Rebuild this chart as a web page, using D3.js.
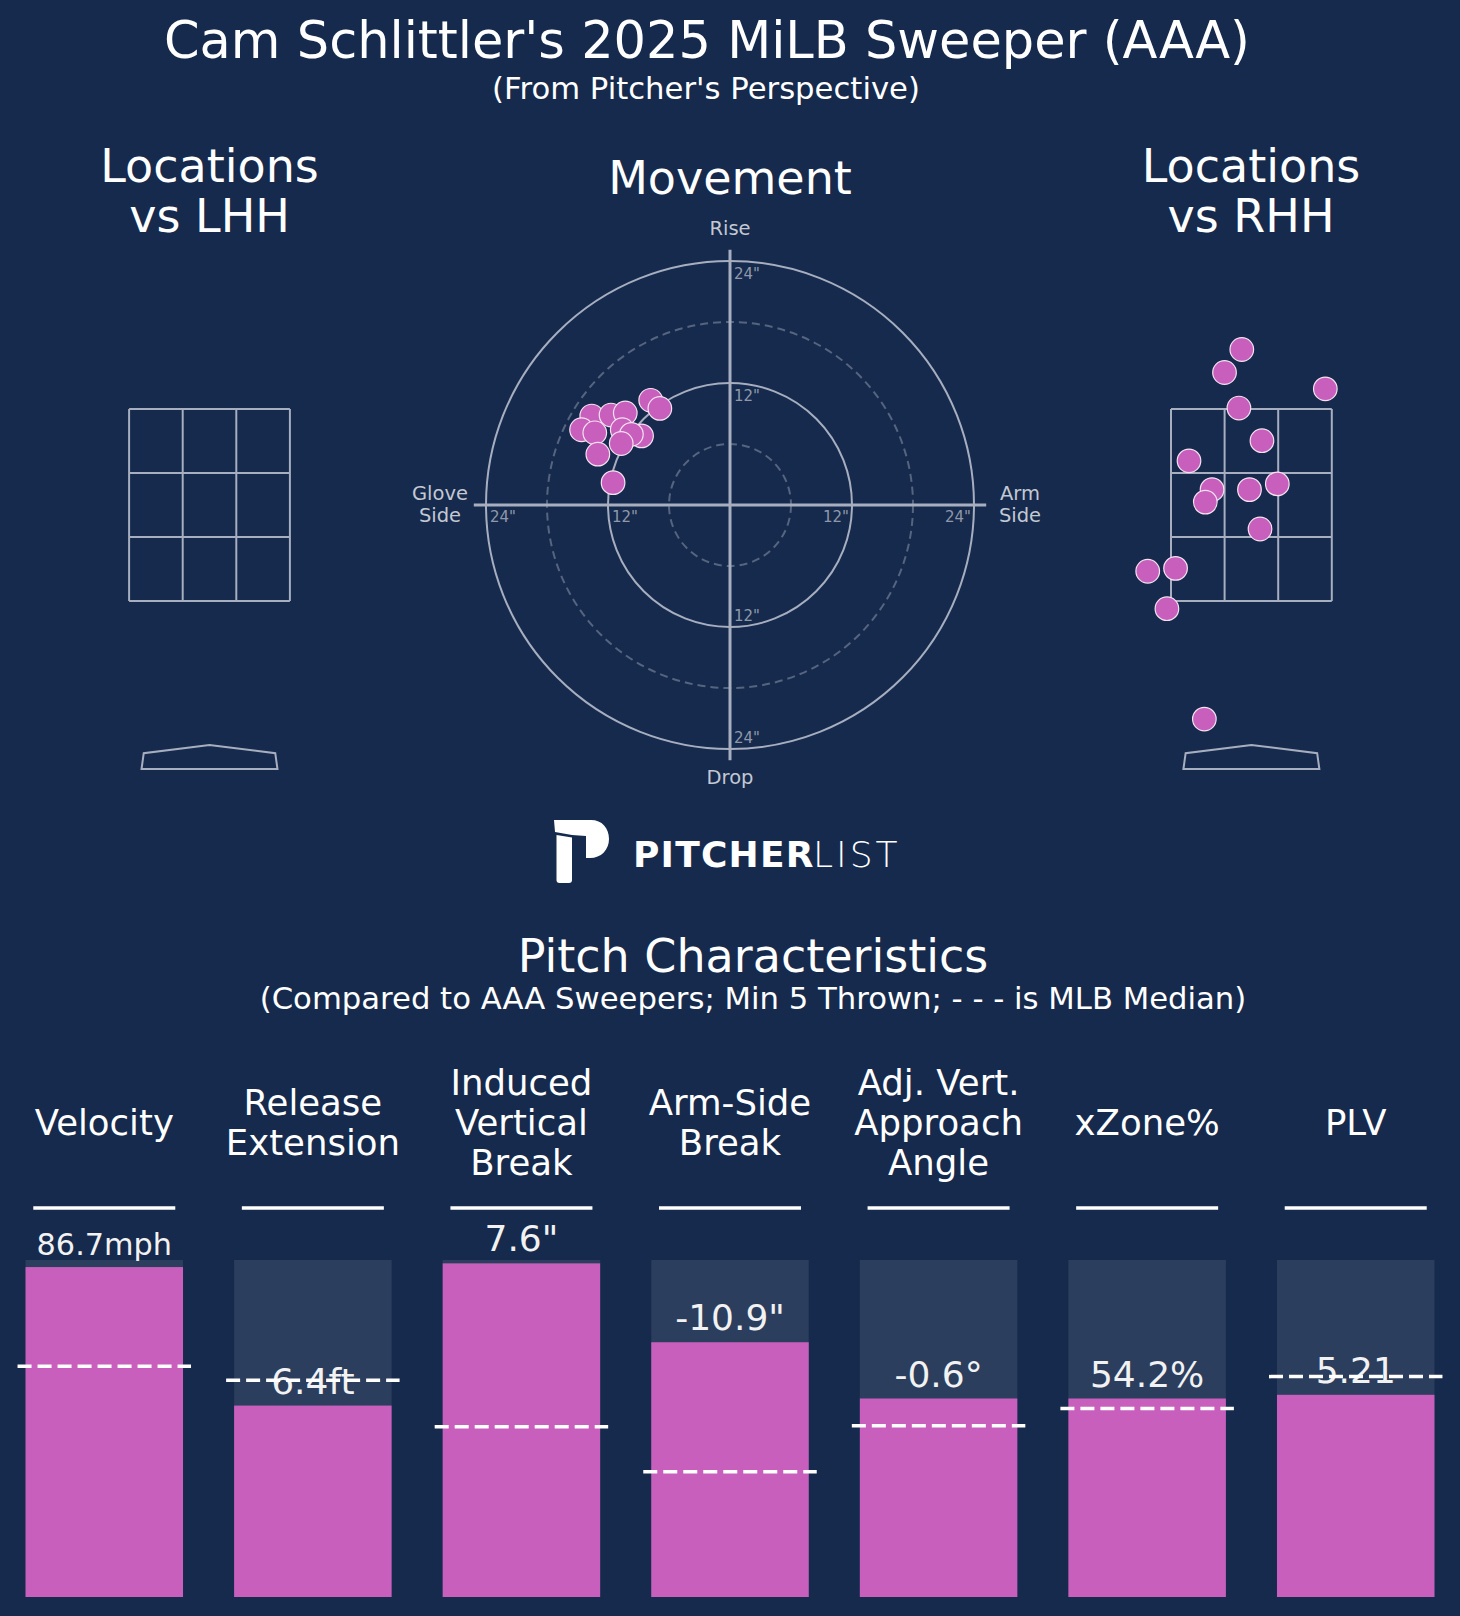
<!DOCTYPE html>
<html>
<head>
<meta charset="utf-8">
<title>Cam Schlittler's 2025 MiLB Sweeper (AAA)</title>
<script src="https://d3js.org/d3.v7.min.js"></script>
<style>
  body { margin: 0; background: #162a4d; }
  svg { display: block; font-family: "DejaVu Sans", sans-serif; }
</style>
</head>
<body>
<script>
// ---- data ----
// movement: horizontal break (in, glove side negative), induced vertical break (in)
const moveHB = [-7.8, -6.9, -13.6, -14.6, -11.7, -10.3, -13.3, -10.6, -8.7, -9.7, -10.7, -13.0, -11.5];
const moveIVB = [10.3, 9.5, 8.75, 7.4, 8.85, 9.05, 7.1, 7.4, 6.8, 6.95, 6.05, 5.0, 2.2];

// locations vs RHH: plate_x (ft), plate_z (ft)
const rhhX = [-0.10, -0.28, 0.77, -0.13, 0.11, -0.65, -0.41, -0.48, -0.02, 0.27, 0.09, -1.08, -0.79, -0.88, -0.49];
const rhhZ = [4.12, 3.88, 3.71, 3.51, 3.17, 2.96, 2.66, 2.53, 2.66, 2.72, 2.25, 1.81, 1.84, 1.42, 0.27];
// locations vs LHH: none thrown
const lhhX = [];
const lhhZ = [];

// pitch characteristics
const metricLabels = [["Velocity"], ["Release", "Extension"], ["Induced", "Vertical", "Break"],
  ["Arm-Side", "Break"], ["Adj. Vert.", "Approach", "Angle"], ["xZone%"], ["PLV"]];
const valueLabels = ["86.7mph", "6.4ft", "7.6\"", "-10.9\"", "-0.6°", "54.2%", "5.21"];
const percentiles = [97.9, 56.8, 99.0, 75.6, 58.9, 58.9, 60.0];
const medianPercentiles = [68.5, 64.3, 50.5, 37.2, 50.8, 55.9, 65.4];

const moveRings = [6, 12, 18, 24];
const moveTicks = [12, 24];

// ---- styles ----
const W = 1460, H = 1616;
const BG = "#162a4d";
const PINK = "#c95fbd";
const TRACK = "#2c3e5e";
const GRID = "#a6aebf";
const GRID_DIM = "#55647f";
const TEXT = "#ffffff";
const SOFT = "#c3c8d3";

const svg = d3.select("body").append("svg")
  .attr("width", W)
  .attr("height", H);

svg.append("rect").attr("width", W).attr("height", H).attr("fill", BG);

function lines(g, arr, x, y, size, lh, color, weight) {
  const t = g.append("text")
    .attr("x", x)
    .attr("y", y)
    .attr("text-anchor", "middle")
    .attr("font-size", size)
    .attr("fill", color)
    .attr("font-weight", weight || "normal");
  arr.forEach((s, i) => t.append("tspan").attr("x", x).attr("dy", i === 0 ? 0 : lh).text(s));
  return t;
}

// ---- titles ----
lines(svg, ["Cam Schlittler's 2025 MiLB Sweeper (AAA)"], 707, 58, 51, 0, TEXT);
lines(svg, ["(From Pitcher's Perspective)"], 706, 99, 30.7, 0, TEXT);

lines(svg, ["Locations", "vs LHH"], 209.5, 182, 46, 50, TEXT);
lines(svg, ["Movement"], 730, 194, 46, 0, TEXT);
lines(svg, ["Locations", "vs RHH"], 1251, 182, 46, 50, TEXT);

// ---- movement plot ----
const mcx = 730, mcy = 505, mr = 244;
const mx = d3.scaleLinear().domain([-24, 24]).range([mcx - mr, mcx + mr]);
const my = d3.scaleLinear().domain([-24, 24]).range([mcy + mr, mcy - mr]);
const pxPerIn = mr / 24;

const mg = svg.append("g");
mg.selectAll("circle.ring")
  .data(moveRings)
  .enter()
  .append("circle")
  .attr("class", "ring")
  .attr("cx", mx(0))
  .attr("cy", my(0))
  .attr("r", d => d * pxPerIn)
  .attr("fill", "none")
  .attr("stroke", d => d % 12 === 0 ? GRID : GRID_DIM)
  .attr("stroke-width", 2)
  .attr("stroke-dasharray", d => d % 12 === 0 ? null : "8,5");

mg.append("line")
  .attr("x1", mx(-25.2)).attr("x2", mx(25.2))
  .attr("y1", my(0)).attr("y2", my(0))
  .attr("stroke", GRID).attr("stroke-width", 3);
mg.append("line")
  .attr("x1", mx(0)).attr("x2", mx(0))
  .attr("y1", my(25.1)).attr("y2", my(-25.1))
  .attr("stroke", GRID).attr("stroke-width", 3);

const tickColor = "#8f98aa";
moveTicks.forEach(t => {
  // vertical axis, top and bottom
  mg.append("text").attr("x", mx(0) + 4).attr("y", my(t) + 18)
    .attr("font-size", 15).attr("fill", tickColor).text(t + "\"");
  mg.append("text").attr("x", mx(0) + 4).attr("y", my(-t) - 6)
    .attr("font-size", 15).attr("fill", tickColor).text(t + "\"");
  // horizontal axis, left and right
  mg.append("text").attr("x", mx(-t) + 4).attr("y", my(0) + 17)
    .attr("font-size", 15).attr("fill", tickColor).text(t + "\"");
  mg.append("text").attr("x", mx(t) - 3).attr("y", my(0) + 17)
    .attr("text-anchor", "end")
    .attr("font-size", 15).attr("fill", tickColor).text(t + "\"");
});

lines(mg, ["Rise"], mx(0), 235, 19.5, 0, SOFT);
lines(mg, ["Drop"], mx(0), 784, 19.5, 0, SOFT);
lines(mg, ["Glove", "Side"], 440, 500, 19.5, 22, SOFT);
lines(mg, ["Arm", "Side"], 1020, 500, 19.5, 22, SOFT);

mg.selectAll("circle.pitch")
  .data(moveHB.map((h, i) => [h, moveIVB[i]]))
  .enter()
  .append("circle")
  .attr("class", "pitch")
  .attr("cx", d => mx(d[0]))
  .attr("cy", d => my(d[1]))
  .attr("r", 11.8)
  .attr("fill", PINK)
  .attr("stroke", "#f3e3f1")
  .attr("stroke-width", 1.2);

// ---- location plots ----
const ftPx = 96;
const zoneTop = 409;
const zoneHalf = 0.8375;
const platePts = [[-0.708, -0.25], [-0.685, -0.085], [0, 0], [0.685, -0.085], [0.708, -0.25]];

function locationPlot(cx, xs, zs) {
  const x = d3.scaleLinear().domain([-1, 1]).range([cx - ftPx, cx + ftPx]);
  const z = d3.scaleLinear().domain([3.5, 1.5]).range([zoneTop, zoneTop + 2 * ftPx]);
  const g = svg.append("g");

  const xs3 = d3.range(4).map(i => -zoneHalf + i * (2 * zoneHalf / 3));
  const zs3 = d3.range(4).map(i => 1.5 + i * (2 / 3));

  g.selectAll("line.v").data(xs3).enter().append("line")
    .attr("x1", d => x(d)).attr("x2", d => x(d))
    .attr("y1", z(1.5)).attr("y2", z(3.5))
    .attr("stroke", GRID).attr("stroke-width", 2);
  g.selectAll("line.h").data(zs3).enter().append("line")
    .attr("x1", x(-zoneHalf)).attr("x2", x(zoneHalf))
    .attr("y1", d => z(d)).attr("y2", d => z(d))
    .attr("stroke", GRID).attr("stroke-width", 2);

  g.append("path")
    .attr("d", d3.line().x(d => x(d[0])).y(d => z(d[1]))(platePts) + "Z")
    .attr("fill", "none")
    .attr("stroke", GRID)
    .attr("stroke-width", 2);

  g.selectAll("circle")
    .data(xs.map((v, i) => [v, zs[i]]))
    .enter()
    .append("circle")
    .attr("cx", d => x(d[0]))
    .attr("cy", d => z(d[1]))
    .attr("r", 11.8)
    .attr("fill", PINK)
    .attr("stroke", "#f3e3f1")
    .attr("stroke-width", 1.2);
}

locationPlot(209.5, lhhX, lhhZ);
locationPlot(1251.4, rhhX, rhhZ);

// ---- logo ----
const logo = svg.append("g").attr("fill", "#ffffff");
logo.append("path")
  .attr("d", "M554,820 L591,820 C602,820 609,828 609,839 C609,850 601,858 590,858 L586,858 L586,836 L572,835 L555,832 Z");
logo.append("path")
  .attr("d", "M556.5,835 L572,837.5 L572,880 Q572,883 569,883 L559.5,883 Q556.5,883 556.5,880 Z");
logo.append("text").attr("x", 633).attr("y", 867)
  .attr("font-size", 36).attr("font-weight", "bold").attr("letter-spacing", 1.2)
  .text("PITCHER");
logo.append("text").attr("x", 813).attr("y", 867)
  .attr("font-size", 36).attr("font-weight", 200).attr("letter-spacing", 3)
  .text("LIST");

// ---- pitch characteristics ----
lines(svg, ["Pitch Characteristics"], 753, 972, 46, 0, TEXT);
lines(svg, ["(Compared to AAA Sweepers; Min 5 Thrown; - - - is MLB Median)"], 753, 1009, 30.7, 0, TEXT);

const bx = d3.scaleBand()
  .domain(d3.range(metricLabels.length))
  .range([0, W])
  .paddingInner(0.245)
  .paddingOuter(0.1225);
const by = d3.scaleLinear().domain([0, 100]).range([1597, 1260]);

const bars = svg.append("g");
const cols = bars.selectAll("g.col")
  .data(d3.range(metricLabels.length))
  .enter()
  .append("g")
  .attr("class", "col");

cols.each(function (i) {
  const g = d3.select(this);
  const x0 = bx(i), bw = bx.bandwidth(), xc = x0 + bw / 2;
  const lab = metricLabels[i];
  lines(g, lab, xc, 1135 - (lab.length - 1) * 20, 35.5, 40, TEXT);

  g.append("line")
    .attr("x1", xc - 71).attr("x2", xc + 71)
    .attr("y1", 1208).attr("y2", 1208)
    .attr("stroke", "#ffffff").attr("stroke-width", 3.5);

  g.append("rect")
    .attr("x", x0).attr("width", bw)
    .attr("y", by(100)).attr("height", by(0) - by(100))
    .attr("fill", TRACK);
  g.append("rect")
    .attr("x", x0).attr("width", bw)
    .attr("y", by(percentiles[i])).attr("height", by(0) - by(percentiles[i]))
    .attr("fill", PINK);

  // the long velocity label is shrunk to fit its bar
  const fs = valueLabels[i].length > 6 ? 30.3 : 36;
  g.append("text")
    .attr("x", xc).attr("y", by(percentiles[i]) - 12)
    .attr("text-anchor", "middle")
    .attr("font-size", fs)
    .attr("fill", "#f2f2f2")
    .text(valueLabels[i]);

  g.append("line")
    .attr("x1", x0 - 8).attr("x2", x0 + bw + 8)
    .attr("y1", by(medianPercentiles[i])).attr("y2", by(medianPercentiles[i]))
    .attr("stroke", "#ffffff").attr("stroke-width", 3.5)
    .attr("stroke-dasharray", "14,6");
});
</script>
</body>
</html>
